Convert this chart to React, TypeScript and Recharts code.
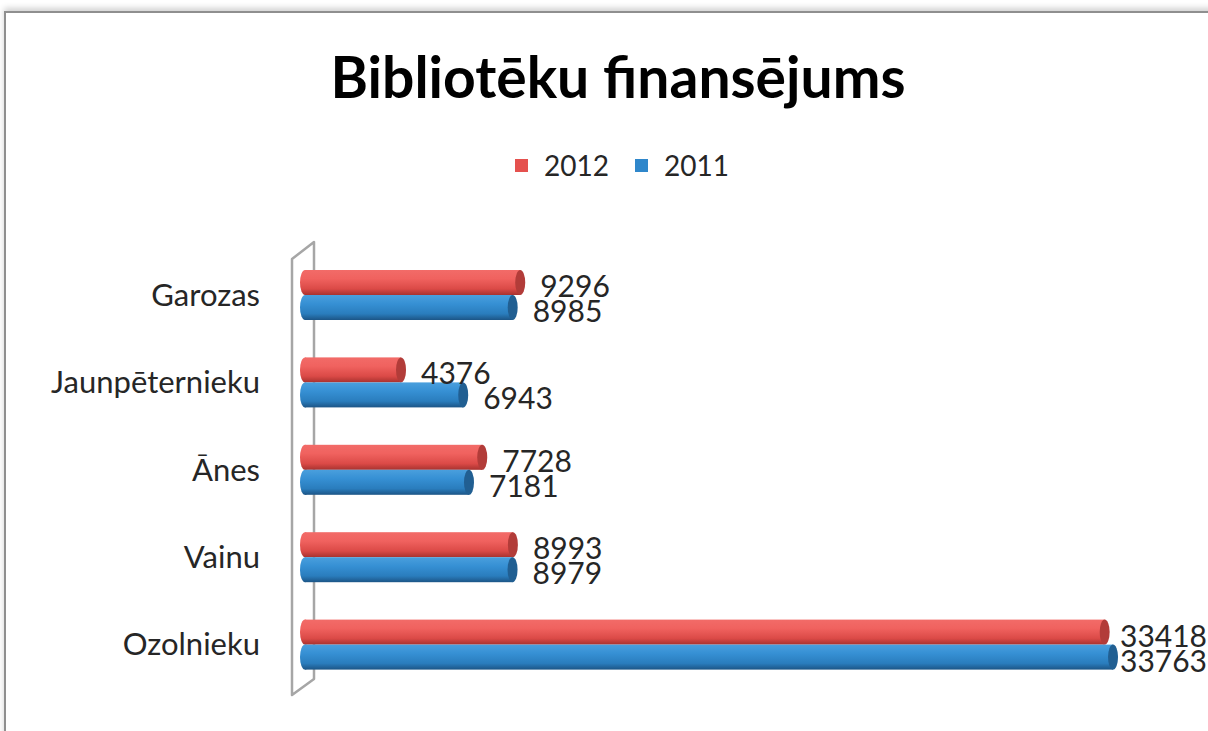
import { BarChart, Bar, XAxis, YAxis, LabelList } from "recharts";

const categories = ["Garozas", "Jaunpēternieku", "Ānes", "Vainu", "Ozolnieku"];
const values2012 = [9296, 4376, 7728, 8993, 33418];
const values2011 = [8985, 6943, 7181, 8979, 33763];
const seriesNames = ["2012", "2011"];
const seriesColors = ["#E5514E", "#2F87CB"];

const data = categories.map((name, i) => ({
  name,
  y2012: values2012[i],
  y2011: values2011[i],
}));

const W = 1208;
const H = 731;
const FONT = "Lato, 'Open Sans', sans-serif";

// cylinder-like bar: shaded body plus a darker end cap
function Cylinder(props: any) {
  const { x, y, width, height, gradId, capFill } = props;
  if (!width || width <= 0) return null;
  const rx = 5;
  const ry = height / 2;
  const end = x + width - rx;
  return (
    <g>
      <ellipse cx={x + rx} cy={y + ry} rx={rx} ry={ry} fill={`url(#${gradId})`} />
      <rect x={x + rx} y={y} width={Math.max(end - x - rx, 0)} height={height} fill={`url(#${gradId})`} />
      <ellipse cx={end} cy={y + ry} rx={rx} ry={ry} fill={capFill} />
    </g>
  );
}

function ValueLabel(props: any) {
  const { x, y, width, height, value } = props;
  const end = x + width;
  // keep the label inside the chart like the original does
  const lx = Math.min(end + 15, W - 88);
  return (
    <text
      x={lx}
      y={y + height / 2 + 7}
      dominantBaseline="middle"
      fontFamily={FONT}
      fontSize={30}
      fill="#262626"
    >
      {value}
    </text>
  );
}

function Wall() {
  return (
    <svg width={W} height={H} style={{ position: "absolute", left: 0, top: 0 }}>
      <polygon
        points="292,259 314,242 314,679 292,695"
        fill="none"
        stroke="#a6a6a6"
        strokeWidth={2.5}
        strokeLinejoin="round"
      />
    </svg>
  );
}

export default function App() {
  return (
    <div
      style={{
        position: "absolute",
        left: 0,
        top: 0,
        width: W,
        height: H,
        overflow: "hidden",
        background: "#fff",
        fontFamily: FONT,
      }}
    >
      <div
        style={{
          position: "absolute",
          left: 4,
          top: 11,
          width: W + 100,
          height: H + 100,
          borderTop: "2px solid #8f8f8f",
          borderLeft: "2px solid #8f8f8f",
          boxShadow: "0 -3px 6px rgba(0,0,0,0.18)",
        }}
      />
      <div
        style={{
          position: "absolute",
          left: 14,
          width: W,
          top: 42,
          textAlign: "center",
          fontSize: 57,
          fontWeight: 700,
          color: "#000",
          whiteSpace: "nowrap",
        }}
      >
        Bibliotēku finansējums
      </div>
      <div
        style={{
          position: "absolute",
          left: 515,
          top: 148,
          display: "flex",
          alignItems: "center",
          fontSize: 28,
          color: "#262626",
        }}
      >
        {seriesNames.map((s, i) => (
          <div key={s} style={{ display: "flex", alignItems: "center", marginRight: 26 }}>
            <span style={{ width: 13, height: 13, background: seriesColors[i], marginRight: 16 }} />
            <span>{s}</span>
          </div>
        ))}
      </div>
      <Wall />
      <div style={{ position: "absolute", left: 0, top: 0 }}>
        <BarChart
          width={W}
          height={H}
          data={data}
          layout="vertical"
          margin={{ top: 251, right: 60, bottom: 43, left: 0 }}
          barSize={25}
          barGap={0}
        >
          <defs>
            <linearGradient id="gRed" x1="0" y1="0" x2="0" y2="1">
              <stop offset="0%" stopColor="#F26B68" />
              <stop offset="35%" stopColor="#F0625F" />
              <stop offset="75%" stopColor="#DB4A47" />
              <stop offset="100%" stopColor="#A8322F" />
            </linearGradient>
            <linearGradient id="gBlue" x1="0" y1="0" x2="0" y2="1">
              <stop offset="0%" stopColor="#4A9FDD" />
              <stop offset="35%" stopColor="#3690D4" />
              <stop offset="75%" stopColor="#2A7DBD" />
              <stop offset="100%" stopColor="#1C5586" />
            </linearGradient>
          </defs>
          <XAxis type="number" domain={[0, 35000]} hide />
          <YAxis
            type="category"
            dataKey="name"
            width={300}
            axisLine={false}
            tickLine={false}
            tickSize={0}
            tickMargin={40}
            tick={{ fontSize: 31, fill: "#262626", fontFamily: FONT }}
          />
          <Bar
            dataKey="y2012"
            name="2012"
            fill={seriesColors[0]}
            isAnimationActive={false}
            shape={(p: any) => <Cylinder {...p} gradId="gRed" capFill="#B23C39" />}
          >
            <LabelList dataKey="y2012" content={<ValueLabel />} />
          </Bar>
          <Bar
            dataKey="y2011"
            name="2011"
            fill={seriesColors[1]}
            isAnimationActive={false}
            shape={(p: any) => <Cylinder {...p} gradId="gBlue" capFill="#215F92" />}
          >
            <LabelList dataKey="y2011" content={<ValueLabel />} />
          </Bar>
        </BarChart>
      </div>
    </div>
  );
}
